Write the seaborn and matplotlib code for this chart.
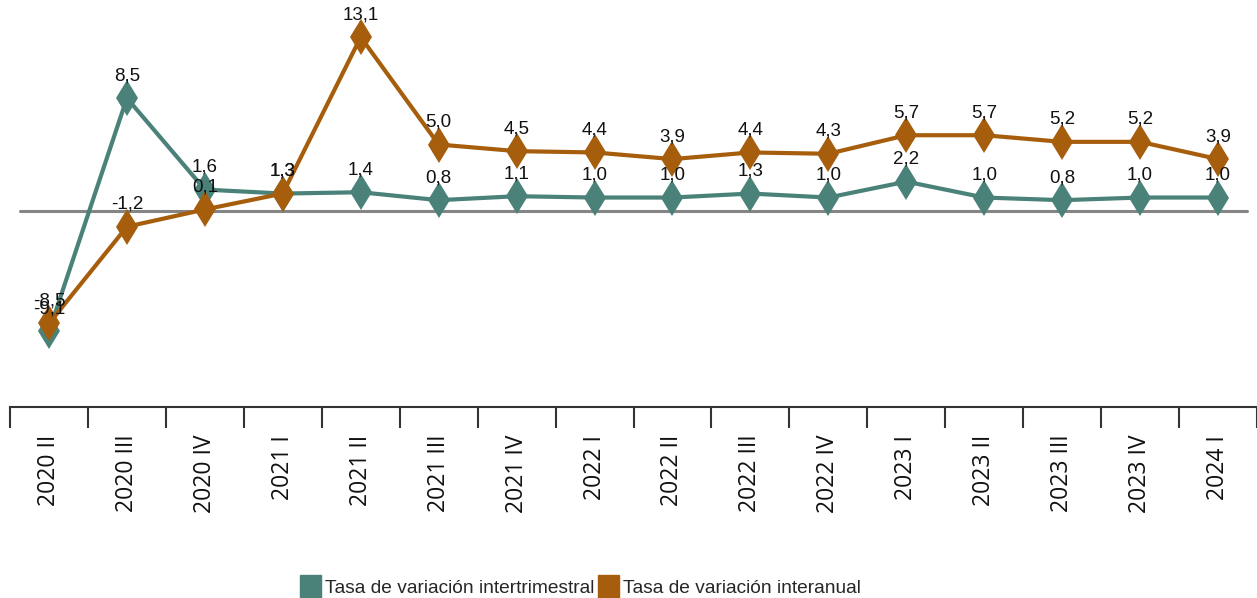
import pandas as pd
import numpy as np
import matplotlib.pyplot as plt
import seaborn as sns
from matplotlib.patches import Patch

# data
periodos = ["2020 II", "2020 III", "2020 IV", "2021 I", "2021 II", "2021 III", "2021 IV",
            "2022 I", "2022 II", "2022 III", "2022 IV", "2023 I", "2023 II", "2023 III",
            "2023 IV", "2024 I"]
intertrimestral = [-9.1, 8.5, 1.6, 1.3, 1.4, 0.8, 1.1, 1.0, 1.0, 1.3, 1.0, 2.2, 1.0, 0.8, 1.0, 1.0]
interanual = [-8.5, -1.2, 0.1, 1.3, 13.1, 5.0, 4.5, 4.4, 3.9, 4.4, 4.3, 5.7, 5.7, 5.2, 5.2, 3.9]

serie_a = "Tasa de variación intertrimestral"
serie_b = "Tasa de variación interanual"
color_a = "#4a8279"
color_b = "#a65e0d"

df = pd.DataFrame({
    "periodo": periodos * 2,
    "valor": intertrimestral + interanual,
    "serie": [serie_a] * len(periodos) + [serie_b] * len(periodos),
})
df["pos"] = list(range(len(periodos))) * 2

sns.set_style("white")
plt.rcParams["font.family"] = ["Liberation Sans", "DejaVu Sans"]

fig = plt.figure(figsize=(12.57, 5.98), dpi=100)
ax = fig.add_axes([10 / 1257, 1 - 407 / 598, 1 - 10 / 1257, 407 / 598])

# zero line
ax.axhline(0, color="#858585", lw=2.2, zorder=1, xmin=0.008, xmax=0.992)

sns.lineplot(data=df, x="pos", y="valor", hue="serie",
             palette={serie_a: color_a, serie_b: color_b},
             marker="d", markersize=18, markeredgewidth=0, linewidth=3,
             legend=False, ax=ax, zorder=3)

# data labels
for vals in (intertrimestral, interanual):
    for i, v in enumerate(vals):
        ax.annotate(f"{v:.1f}".replace(".", ","), (i, v), xytext=(0, 10),
                    textcoords="offset points", ha="center", va="bottom",
                    fontsize=13.5, color="#111111", zorder=5)

n = len(periodos)
ax.set_xlim(-0.5, n - 0.5)
ax.set_ylim(-14.8, 15.9)
ax.set_yticks([])
ax.set_xlabel("")
ax.set_ylabel("")
for s in ("left", "right", "top"):
    ax.spines[s].set_visible(False)
ax.spines["bottom"].set_color("#333333")
ax.spines["bottom"].set_linewidth(1.5)

ax.set_xticks(range(n))
ax.set_xticklabels(periodos, rotation=90, fontsize=16.5, family=["Open Sans", "DejaVu Sans"],
                   color="#111111")
ax.tick_params(axis="x", which="major", length=0, pad=20, bottom=False)
ax.set_xticks(np.arange(-0.5, n, 1), minor=True)
ax.tick_params(axis="x", which="minor", length=15, width=1.5, color="#333333",
               direction="out", bottom=True)

handles = [Patch(color=color_a, label=serie_a), Patch(color=color_b, label=serie_b)]
fig.legend(handles=handles, loc="lower center", bbox_to_anchor=(0.462, -0.03), ncol=2,
           frameon=False, fontsize=13.8, handlelength=1.1, handleheight=1.5,
           handletextpad=0.2, columnspacing=0.2)

fig.savefig("out.png", dpi=100)
